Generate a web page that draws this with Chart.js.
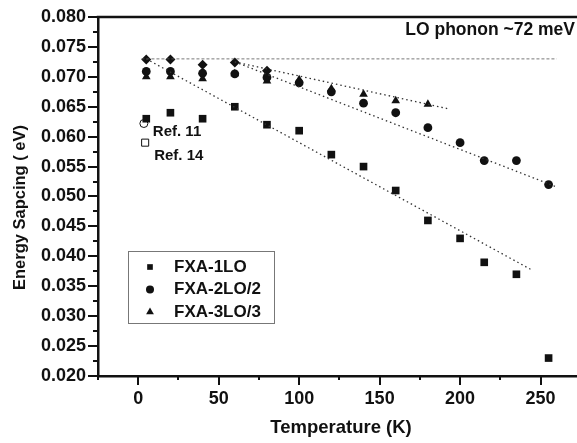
<!DOCTYPE html>
<html lang="en">
<head>
<meta charset="UTF-8" />
<title>Energy Spacing vs Temperature</title>
<script src="https://cdn.jsdelivr.net/npm/chart.js"></script>
<style>
  html, body { margin: 0; padding: 0; background: #fff; overflow: hidden; }
  #wrap { width: 577px; height: 443px; overflow: hidden; }
</style>
</head>
<body>
<div id="wrap"><canvas id="chart" width="590" height="443"></canvas></div>
<script>
// measured points, temperature in K, energy in eV
const temps = [5, 20, 40, 60, 80, 100, 120, 140, 160, 180, 200, 215, 235, 255];
const fxa1LO = [0.063, 0.064, 0.063, 0.065, 0.062, 0.061, 0.057, 0.055, 0.051, 0.046, 0.043, 0.039, 0.037, 0.023];
const fxa2LO = [0.0709, 0.0709, 0.0706, 0.0705, 0.0699, 0.069, 0.0675, 0.0656, 0.064, 0.0615, 0.059, 0.056, 0.056, 0.052];
const temps3LO = [5, 20, 40, 60, 80, 100, 120, 140, 160, 180];
const fxa3LO = [0.070, 0.070, 0.0697, 0.0705, 0.0693, 0.0695, 0.068, 0.0671, 0.066, 0.0654];
const tempsTop = [5, 20, 40, 60, 80];
const topPoints = [0.0729, 0.0729, 0.072, 0.0724, 0.071];

// literature values
const ref11T = [3.5];
const ref11E = [0.0622];
const ref14T = [4.3];
const ref14E = [0.059];

// guide lines (end points)
const phononT = [2, 260];
const phononE = [0.073, 0.073];
const fit1T = [5, 244];
const fit1E = [0.073, 0.0378];
const fit2T = [60, 260];
const fit2E = [0.0725, 0.0516];
const fit3T = [60, 192];
const fit3E = [0.0725, 0.0647];

const legendLabels = ['FXA-1LO', 'FXA-2LO/2', 'FXA-3LO/3'];
const legendStyles = ['rect', 'circle', 'triangle'];

const pts = (xs, ys) => xs.map((x, i) => ({ x: x, y: ys[i] }));
const ink = '#111';
const fam = "'Liberation Sans', Arial, sans-serif";

Chart.defaults.font.family = fam;
Chart.defaults.color = ink;

function markers(label, xs, ys, style, r, fill) {
  return {
    label: label,
    data: pts(xs, ys),
    pointStyle: style,
    pointRadius: r,
    pointBackgroundColor: fill || ink,
    pointBorderColor: ink,
    pointBorderWidth: fill ? 1 : 0,
    showLine: false
  };
}

function guide(xs, ys, dash, w, col) {
  return {
    data: pts(xs, ys),
    showLine: true,
    borderColor: col,
    borderWidth: w,
    borderDash: dash,
    pointRadius: 0
  };
}

const annotations = {
  id: 'annotations',
  afterDraw(chart) {
    const { ctx, chartArea: a, scales: { x, y } } = chart;
    ctx.save();
    ctx.strokeStyle = ink;
    ctx.fillStyle = ink;

    // top frame line
    ctx.lineWidth = 2.5;
    ctx.beginPath();
    ctx.moveTo(a.left - 1.25, a.top);
    ctx.lineTo(chart.width, a.top);
    ctx.stroke();

    // major / minor ticks
    ctx.lineWidth = 2;
    ctx.beginPath();
    y.ticks.forEach((t, i) => {
      const py = Math.round(y.getPixelForValue(t.value));
      ctx.moveTo(a.left, py);
      ctx.lineTo(a.left - (i % 2 === 0 ? 10 : 5), py);
    });
    x.ticks.forEach(t => {
      const px = Math.round(x.getPixelForValue(t.value));
      ctx.moveTo(px, a.bottom);
      ctx.lineTo(px, a.bottom + (t.value % 50 === 0 ? 9 : 4));
    });
    ctx.stroke();

    // y axis title
    ctx.save();
    ctx.translate(a.left - 78, (a.top + a.bottom) / 2 + 11);
    ctx.rotate(-Math.PI / 2);
    ctx.font = 'bold 16.5px ' + fam;
    ctx.textAlign = 'center';
    ctx.textBaseline = 'middle';
    ctx.fillText('Energy Sapcing ( eV)', 0, 0);
    ctx.restore();

    // text labels
    ctx.font = 'bold 17.5px ' + fam;
    ctx.textAlign = 'right';
    ctx.textBaseline = 'middle';
    ctx.fillText('LO phonon ~72 meV', 575, a.top + 13);

    ctx.font = 'bold 15px ' + fam;
    ctx.textAlign = 'left';
    ctx.fillText('Ref. 11', x.getPixelForValue(ref11T[0]) + 9, y.getPixelForValue(ref11E[0]) + 8);
    ctx.fillText('Ref. 14', x.getPixelForValue(ref14T[0]) + 9, y.getPixelForValue(ref14E[0]) + 13);

    // legend box
    const lx = a.left + 30, ly = a.top + 234, lw = 146, lh = 72;
    ctx.lineWidth = 1;
    ctx.strokeStyle = '#777';
    ctx.strokeRect(lx + 0.5, ly + 0.5, lw, lh);
    ctx.font = 'bold 17px ' + fam;
    legendLabels.forEach((lab, i) => {
      const cy = ly + 16 + i * 22.5;
      ctx.fillStyle = ink;
      ctx.strokeStyle = ink;
      Chart.helpers.drawPoint(ctx, { pointStyle: legendStyles[i], radius: legendStyles[i] === 'triangle' ? 4.5 : 4, rotation: 0, borderWidth: 0 }, lx + 22, cy);
      ctx.fillText(lab, lx + 46, cy);
    });
    ctx.restore();
  }
};

new Chart(document.getElementById('chart'), {
  type: 'scatter',
  data: {
    datasets: [
      guide(phononT, phononE, [3, 2], 0.8, '#555'),
      guide(fit1T, fit1E, [1.5, 3], 1.3, '#333'),
      guide(fit2T, fit2E, [1.5, 3], 1.3, '#333'),
      guide(fit3T, fit3E, [1.5, 3], 1.3, '#333'),
      markers('FXA-1LO', temps, fxa1LO, 'rect', 5.4),
      markers('FXA-3LO/3', temps3LO, fxa3LO, 'triangle', 5),
      markers('FXA-2LO/2', temps, fxa2LO, 'circle', 4.4),
      markers('LO', tempsTop, topPoints, 'rectRot', 5),
      markers('Ref. 11', ref11T, ref11E, 'circle', 4, '#fff'),
      markers('Ref. 14', ref14T, ref14E, 'rect', 5, '#fff')
    ]
  },
  options: {
    responsive: false,
    animation: false,
    devicePixelRatio: 1,
    layout: { padding: { top: 17, right: 1, left: 0, bottom: 0 } },
    plugins: { legend: { display: false }, tooltip: { enabled: false } },
    scales: {
      x: {
        type: 'linear',
        min: -25,
        max: 277,
        afterFit: s => { s.height = 67; },
        border: { display: true, color: ink, width: 2.5 },
        grid: { drawOnChartArea: false, tickLength: 9, tickColor: 'rgba(0,0,0,0)' },
        ticks: {
          stepSize: 25,
          includeBounds: false,
          padding: 3,
          maxRotation: 0,
          autoSkip: false,
          font: { size: 18, weight: 'bold' },
          callback: v => (v % 50 === 0 ? String(v) : '')
        },
        title: {
          display: true,
          text: 'Temperature (K)',
          font: { size: 18.5, weight: 'bold' },
          padding: { top: 0, bottom: 4 }
        }
      },
      y: {
        min: 0.02,
        max: 0.08,
        afterFit: s => { s.width = 98; },
        border: { display: true, color: ink, width: 2.5 },
        grid: { drawOnChartArea: false, tickLength: 10, tickColor: 'rgba(0,0,0,0)' },
        ticks: {
          stepSize: 0.0025,
          padding: 2,
          autoSkip: false,
          font: { size: 18, weight: 'bold' },
          callback: (v, i) => (i % 2 === 0 ? v.toFixed(3) : '')
        },
        title: { display: false }
      }
    }
  },
  plugins: [annotations]
});
</script>
</body>
</html>
